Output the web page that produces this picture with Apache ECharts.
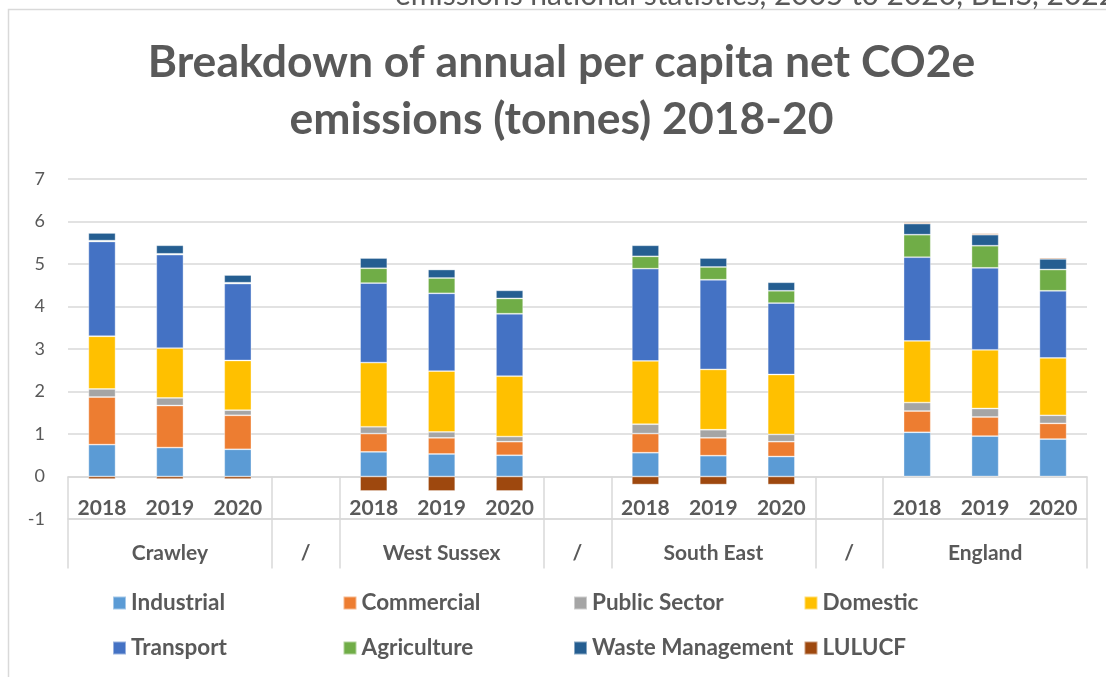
<!DOCTYPE html>
<html>
<head>
<meta charset="utf-8">
<script src="https://cdn.jsdelivr.net/npm/echarts@6/dist/echarts.min.js"></script>
<style>html,body{margin:0;padding:0;background:#fff;}#c{width:1106px;height:677px;}</style>
</head>
<body>
<div id="c"></div>
<script>
// ---- data ----
var yearLabels = ['2018','2019','2020','', '2018','2019','2020','', '2018','2019','2020','', '2018','2019','2020'];
var regionLabels = ['', 'Crawley', '', '/', '', 'West Sussex', '', '/', '', 'South East', '', '/', '', 'England', ''];
var groupStartIdx = [0, 3, 4, 7, 8, 11, 12];
var seriesNames = ['Industrial','Commercial','Public Sector','Domestic','Transport','Agriculture','Waste Management','LULUCF'];
var industrial  = [0.75,0.68,0.64,null, 0.58,0.53,0.50,null, 0.56,0.49,0.47,null, 1.04,0.95,0.88];
var commercial  = [1.12,0.99,0.80,null, 0.43,0.38,0.32,null, 0.45,0.42,0.35,null, 0.50,0.45,0.37];
var publicSector= [0.19,0.18,0.12,null, 0.16,0.14,0.12,null, 0.22,0.19,0.17,null, 0.20,0.20,0.19];
var domestic    = [1.24,1.17,1.17,null, 1.51,1.43,1.42,null, 1.49,1.42,1.41,null, 1.45,1.38,1.35];
var transport   = [2.23,2.20,1.81,null, 1.87,1.83,1.47,null, 2.17,2.11,1.68,null, 1.97,1.93,1.58];
var agriculture = [0.02,0.02,0.02,null, 0.35,0.36,0.36,null, 0.29,0.30,0.29,null, 0.53,0.52,0.50];
var waste       = [0.18,0.20,0.18,null, 0.24,0.20,0.19,null, 0.26,0.21,0.20,null, 0.26,0.26,0.25];
var lulucf      = [-0.06,-0.06,-0.06,null, -0.34,-0.34,-0.34,null, -0.19,-0.19,-0.19,null, 0.03,0.03,0.03];
var seriesData = [industrial, commercial, publicSector, domestic, transport, agriculture, waste, lulucf];
var colors = ['#5B9BD5','#ED7D31','#A5A5A5','#FFC000','#4472C4','#70AD47','#255E91','#9E480E'];

var FONT = 'Lato';
var TXT = '#595959';
var GRIDC = '#d9d9d9';

var chart = echarts.init(document.getElementById('c'), null, {renderer: 'canvas'});

var series = seriesNames.map(function (n, i) {
  return {
    name: n, type: 'bar', stack: 'total', barWidth: '40%',
    xAxisIndex: 0, yAxisIndex: 0,
    itemStyle: {color: colors[i], borderColor: 'rgba(255,255,255,0.45)', borderWidth: 0.8},
    emphasis: {disabled: true},
    data: seriesData[i]
  };
});

function legendFor(names, top) {
  return {
    data: names, left: 112, top: top, orient: 'horizontal', padding: 0,
    itemWidth: 13, itemHeight: 13, itemGap: 0, icon: 'rect',
    selectedMode: false,
    textStyle: {fontFamily: FONT, fontSize: 22.5, fontWeight: 'bold', color: TXT, width: 211.5, lineHeight: 24}
  };
}

var option = {
  animation: false,
  color: colors,
  title: {
    text: 'Breakdown of annual per capita net CO2e\nemissions (tonnes) 2018-20',
    left: 561.5, textAlign: 'center', top: 34, padding: 0,
    textStyle: {fontFamily: FONT, fontSize: 44.5, fontWeight: 'bold', color: TXT, lineHeight: 57}
  },
  legend: [legendFor(seriesNames.slice(0, 4), 591), legendFor(seriesNames.slice(4), 636)],
  grid: {left: 68, right: 19, top: 179, bottom: 158, containLabel: false},
  xAxis: [{
    type: 'category', data: yearLabels, position: 'bottom', offset: -42.5,
    axisLine: {onZero: false, lineStyle: {color: GRIDC, width: 1.5}},
    axisTick: {show: true, length: 92, lineStyle: {color: GRIDC, width: 1.5},
      interval: function (idx) { return groupStartIdx.indexOf(idx) >= 0; }},
    axisLabel: {interval: 0, margin: 21, fontFamily: FONT, fontSize: 21, fontWeight: 'bold', color: TXT, lineHeight: 21},
    splitLine: {show: false}
  }, {
    type: 'category', data: regionLabels, position: 'bottom',
    axisLine: {show: true, onZero: false, lineStyle: {color: GRIDC, width: 1.5}},
    axisTick: {show: false},
    axisLabel: {interval: 0, margin: 24, fontFamily: FONT, fontSize: 21, fontWeight: 'bold', color: TXT, lineHeight: 21},
    splitLine: {show: false}
  }],
  yAxis: {
    type: 'value', min: -1, max: 7, interval: 1,
    axisLine: {show: false}, axisTick: {show: false},
    axisLabel: {margin: 23, fontFamily: FONT, fontSize: 18, color: TXT},
    splitLine: {lineStyle: {color: GRIDC, width: 1.5}}
  },
  graphic: [
    {type: 'rect', silent: true, shape: {x: 8.5, y: 9.5, width: 1300, height: 900},
     style: {fill: 'none', stroke: GRIDC, lineWidth: 1.5}},
    {type: 'text', silent: true, x: 395, y: 10,
     style: {text: 'emissions national statistics, 2005 to 2020, BEIS, 2022', fontFamily: FONT, fontSize: 30,
       fill: TXT, verticalAlign: 'bottom', align: 'left'}}
  ],
  series: series
};
chart.setOption(option);
</script>
</body>
</html>
